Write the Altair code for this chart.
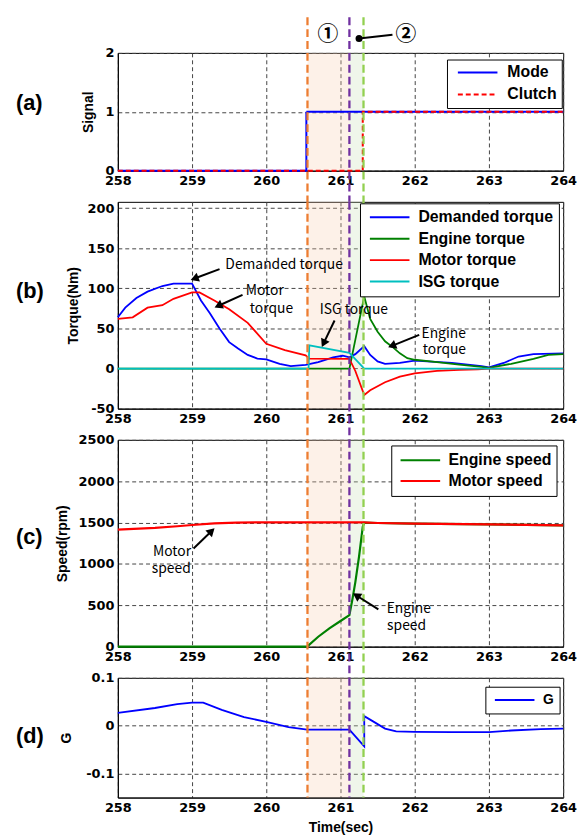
import math
import altair as alt
import pandas as pd

# ---------------- data ----------------
X_MIN, X_MAX = 258, 264
x_ticks = [258, 259, 260, 261, 262, 263, 264]

# phase markers
vline_t = [260.555, 261.12, 261.31]
vline_colors = ["#ED7D31", "#7030A0", "#92D050"]
shade_start = [260.555, 261.12]
shade_end = [261.12, 261.31]
shade_colors = ["#F8CBAD", "#C5E0B4"]

# (a) signals
mode_t = [258, 260.54, 260.54, 264]
mode_v = [0, 0, 1, 1]
clutch_t = [258, 261.30, 261.30, 264]
clutch_v = [0, 0, 1, 1]

# (b) torques
dem_t = [258, 258.1, 258.25, 258.4, 258.6, 258.75, 259.0, 259.12, 259.24, 259.37, 259.5,
         259.62, 259.75, 259.88, 260.0, 260.18, 260.33, 260.53, 260.7, 260.9, 261.03, 261.12,
         261.2, 261.32, 261.4, 261.5, 261.6, 261.8, 262.0, 262.5, 262.9, 263.0, 263.2, 263.4,
         263.6, 264.0]
dem_v = [64, 76, 88, 96, 103, 106, 106, 85, 69, 50, 33, 25, 17, 12.5, 11.5, 6, 3, 4.5, 8, 14,
         16, 14, 18, 28, 17, 9, 6, 7, 10, 7, 3, 1.5, 7, 15, 18, 19]

mot_t = [258, 258.2, 258.4, 258.6, 258.75, 259.0, 259.1, 259.3, 259.5, 259.75, 260.0, 260.25,
         260.53, 260.58, 261.12, 261.2, 261.32, 261.4, 261.6, 261.8, 262.0, 262.3, 262.6, 262.85,
         263.0, 264.0]
mot_v = [62, 64, 76, 79, 87, 95, 95, 85, 74, 57, 31, 23, 16.5, 12.3, 12, -3, -33, -27, -17,
         -10, -6, -3, -1.5, -1, 0, 0]

eng_t = [258, 261.12, 261.32, 261.4, 261.5, 261.6, 261.7, 261.8, 261.9, 262.0, 262.3, 262.6,
         262.9, 263.0, 263.3, 263.6, 263.8, 264.0]
eng_v = [0, 0, 90, 62, 46, 34, 27, 19, 13, 11, 8, 5, 2, 1, 6, 12, 17, 18]

isg_t = [258, 260.57, 260.58, 261.12, 261.32, 264]
isg_v = [0, 0, 29, 19.5, 0, 0]

# (c) speeds
espd_t = [258, 260.55, 260.7, 260.85, 261.0, 261.12, 261.16, 261.2, 261.25, 261.3, 261.32,
          261.5, 262, 263, 264]
espd_v = [0, 0, 120, 220, 310, 380, 570, 780, 1090, 1450, 1500, 1495, 1487, 1478, 1465]
mspd_t = [258, 258.5, 258.8, 259.0, 259.3, 259.6, 260.0, 261.3, 261.5, 262.0, 263.0, 264.0]
mspd_v = [1415, 1435, 1455, 1470, 1490, 1500, 1502, 1502, 1495, 1487, 1478, 1465]

# (d) G
g_t = [258, 258.5, 258.8, 259.0, 259.15, 259.4, 259.7, 260.0, 260.3, 260.55, 261.12, 261.32,
       261.32, 261.45, 261.6, 261.75, 262.0, 262.5, 263.0, 263.3, 263.7, 264.0]
g_v = [0.027, 0.037, 0.045, 0.048, 0.048, 0.033, 0.018, 0.008, -0.003, -0.008, -0.008, -0.043,
       0.02, 0.008, -0.006, -0.012, -0.013, -0.0135, -0.0135, -0.01, -0.007, -0.006]

# annotations (data units)
ann_b_text = ["Demanded torque", "Motor", "torque", "ISG torque", "Engine", "torque"]
ann_b_t = [260.24, 259.98, 260.07, 261.18, 262.39, 262.40]
ann_b_v = [129, 97, 74, 73, 43.5, 23]
arr_b = [(259.37, 124, 259.05, 113), (259.68, 92, 259.37, 79),
         (260.92, 60, 260.78, 33), (262.06, 42, 261.71, 29)]

ann_c_text = ["Motor", "speed", "Engine", "speed"]
ann_c_t = [258.73, 258.72, 261.92, 261.89]
ann_c_v = [1140, 937, 455, 254]
arr_c = [(259.02, 1186, 259.25, 1385), (261.51, 450, 261.23, 609)]

phase_text = ["①", "②"]
phase_t = [260.83, 261.88]
phase_v = [2.31, 2.31]
pointer = (261.25, 2.245, 261.70, 2.31)

# ---------------- layout ----------------
W = 450
H_A, H_B, H_C, H_D = 119, 209, 209, 121
GAP = 31.5
PX_PER_T = W / (X_MAX - X_MIN)

INT_EXPR = "datum.value < 0 ? '-' + format(-datum.value, 'd') : format(datum.value, 'd')"
DEC_EXPR = ("datum.value == 0 ? '0' : (datum.value < 0 ? '-' + format(-datum.value, '.1f')"
            " : format(datum.value, '.1f'))")


def long_df(series):
    rows = []
    for name, ts, vs in series:
        for i, (t, v) in enumerate(zip(ts, vs)):
            rows.append({"series": name, "t": t, "v": v, "i": i})
    return pd.DataFrame(rows)


def x_enc(title=None):
    return alt.X("t:Q", scale=alt.Scale(domain=[X_MIN, X_MAX], nice=False, zero=False),
                 axis=alt.Axis(values=x_ticks, format="d", title=title, grid=True,
                               titlePadding=6))


def make_y(domain, values, title, expr=INT_EXPR, tpad=8):
    return alt.Y("v:Q", scale=alt.Scale(domain=domain, nice=False, zero=False),
                 axis=alt.Axis(values=values, title=title, grid=True, titlePadding=tpad,
                               labelExpr=expr))


def make_legend(lx, ly, row_h, row_pad, sym_off, size=16):
    return alt.Legend(title=None, orient="none", legendX=lx, legendY=ly,
                      symbolType="stroke", symbolSize=1600, symbolStrokeWidth=2,
                      clipHeight=row_h, rowPadding=row_pad, symbolOffset=sym_off,
                      labelOffset=sym_off + 4, labelFont="Liberation Sans",
                      labelFontSize=size, labelFontWeight="bold", labelColor="black",
                      labelLimit=300, strokeColor="black", fillColor="white",
                      padding=5, cornerRadius=0)


def series_layers(df, names, colors, legend, xe, ye, dashes=None, width=1.8):
    layers = []
    for n in names:
        enc = dict(x=xe, y=ye,
                   color=alt.Color("series:N", scale=alt.Scale(domain=names, range=colors),
                                   legend=legend),
                   order=alt.Order("i:Q"))
        if dashes is not None:
            enc["strokeDash"] = alt.StrokeDash("series:N",
                                               scale=alt.Scale(domain=names, range=dashes),
                                               legend=legend)
        layers.append(alt.Chart(df).transform_filter(alt.datum.series == n)
                      .mark_line(strokeWidth=width).encode(**enc))
    return layers


def deco_layers(H, xe, y_top, y_bot):
    shades = []
    for s, e, c in zip(shade_start, shade_end, shade_colors):
        shades.append(alt.Chart(pd.DataFrame({"t": [s], "t2": [e]}))
                      .mark_rect(color=c, opacity=0.28)
                      .encode(x=xe, x2="t2:Q", y=alt.value(0), y2=alt.value(H)))
    vlines = []
    for t, c in zip(vline_t, vline_colors):
        vlines.append(alt.Chart(pd.DataFrame({"t": [t]}))
                      .mark_rule(color=c, strokeDash=[8, 4], strokeWidth=2.3)
                      .encode(x=xe, y=alt.value(y_top), y2=alt.value(y_bot)))
    return shades, vlines


def panel_label(text, y):
    return (alt.Chart(pd.DataFrame({"label": [text]}))
            .mark_text(align="left", baseline="middle", font="Liberation Sans",
                       fontSize=22, fontWeight="bold", color="black")
            .encode(x=alt.value(-103), y=alt.value(y), text="label:N"))


def ann_layers(texts, ts, vs, arrows, xe, ye, sy):
    tdf = pd.DataFrame({"label": texts, "t": ts, "v": vs})
    txt = (alt.Chart(tdf).mark_text(font="Noto Sans CJK KR", fontSize=14, color="black",
                                    align="center", baseline="middle", lineHeight=14)
           .encode(x=xe, y=ye, text="label:N"))
    adf = pd.DataFrame({"t": [a[0] for a in arrows], "v": [a[1] for a in arrows],
                        "t2": [a[2] for a in arrows], "v2": [a[3] for a in arrows]})
    stems = (alt.Chart(adf).mark_rule(color="black", strokeWidth=2)
             .encode(x=xe, y=ye, x2="t2:Q", y2="v2:Q"))
    angs = []
    for t0, v0, t1, v1 in arrows:
        dx = (t1 - t0) * PX_PER_T
        dy = -(v1 - v0) * sy
        angs.append(math.degrees(math.atan2(dx, -dy)) % 360)
    hdf = pd.DataFrame({"t": [a[2] for a in arrows], "v": [a[3] for a in arrows], "ang": angs})
    heads = (alt.Chart(hdf).mark_point(shape="triangle", filled=True, color="black",
                                       size=90, opacity=1)
             .encode(x=xe, y=ye, angle=alt.Angle("ang:Q", scale=None)))
    return [stems, heads, txt]


# ---- panel (a)
xa = x_enc()
ya = make_y([0, 2], [0, 1, 2], "Signal", tpad=10)
df_a = long_df([("Mode", mode_t, mode_v), ("Clutch", clutch_t, clutch_v)])
leg_a = make_legend(332.6, 6.7, 16, 6.3, 5)
sh, vl = deco_layers(H_A, xa, -36, H_A + GAP)
lines_a = series_layers(df_a, ["Mode", "Clutch"], ["#0000FF", "#FF0000"], leg_a, xa, ya,
                        dashes=[[1, 0], [5, 3]], width=2)
ph = (alt.Chart(pd.DataFrame({"label": phase_text, "t": phase_t, "v": phase_v}))
      .mark_text(font="Noto Sans CJK KR", fontSize=21, fontWeight="bold", color="black",
                 baseline="middle")
      .encode(x=xa, y=ya, text="label:N"))
pdf = pd.DataFrame({"t": [pointer[0]], "v": [pointer[1]], "t2": [pointer[2]], "v2": [pointer[3]]})
pline = alt.Chart(pdf).mark_rule(color="black", strokeWidth=2).encode(
    x=xa, y=ya, x2="t2:Q", y2="v2:Q")
pdot = alt.Chart(pdf).mark_point(shape="circle", filled=True, color="black", size=50,
                                 opacity=1).encode(x=xa, y=ya)
panel_a = alt.layer(*sh, *lines_a, *vl, ph, pline, pdot, panel_label("(a)", 51)).properties(
    width=W, height=H_A)

# ---- panel (b)
xb = x_enc()
yb = make_y([-50, 208], [-50, 0, 50, 100, 150, 200], "Torque(Nm)", tpad=7)
df_b = long_df([("Demanded torque", dem_t, dem_v), ("Engine torque", eng_t, eng_v),
                ("Motor torque", mot_t, mot_v), ("ISG torque", isg_t, isg_v)])
leg_b = make_legend(244.7, 1.5, 18, 3.7, 4)
sh, vl = deco_layers(H_B, xb, 0, H_B + GAP)
lines_b = series_layers(df_b, ["Demanded torque", "Engine torque", "Motor torque", "ISG torque"],
                        ["#0000FF", "#008000", "#FF0000", "#00BFBF"], leg_b, xb, yb)
ann_b = ann_layers(ann_b_text, ann_b_t, ann_b_v, arr_b, xb, yb, H_B / 258)
panel_b = alt.layer(*sh, *lines_b, *vl, *ann_b, panel_label("(b)", 90)).properties(
    width=W, height=H_B)

# ---- panel (c)
xc = x_enc()
yc = make_y([0, 2500], [0, 500, 1000, 1500, 2000, 2500], "Speed(rpm)", tpad=9)
df_c = long_df([("Engine speed", espd_t, espd_v), ("Motor speed", mspd_t, mspd_v)])
leg_c = make_legend(276.3, 5.7, 20, 1, 3.4)
sh, vl = deco_layers(H_C, xc, 0, H_C + GAP)
lines_c = series_layers(df_c, ["Engine speed", "Motor speed"], ["#008000", "#FF0000"], leg_c,
                        xc, yc, width=2.2)
ann_c = ann_layers(ann_c_text, ann_c_t, ann_c_v, arr_c, xc, yc, H_C / 2500)
panel_c = alt.layer(*sh, *lines_c, *vl, *ann_c, panel_label("(c)", 98)).properties(
    width=W, height=H_C)

# ---- panel (d)
xd = x_enc("Time(sec)")
yd = make_y([-0.15, 0.1], [-0.1, 0, 0.1], "G", expr=DEC_EXPR, tpad=12)
df_d = long_df([("G", g_t, g_v)])
leg_d = make_legend(371.4, 9, 17, 0, 3.6, size=14)
sh, vl = deco_layers(H_D, xd, 0, H_D)
lines_d = series_layers(df_d, ["G"], ["#0000FF"], leg_d, xd, yd)
panel_d = alt.layer(*sh, *lines_d, *vl, panel_label("(d)", 59)).properties(
    width=W, height=H_D)

chart = (alt.vconcat(panel_a, panel_b, panel_c, panel_d, spacing=GAP, bounds="flush")
         .resolve_scale(color="independent", strokeDash="independent")
         .resolve_legend(color="independent", strokeDash="independent")
         .properties(padding={"left": 7, "top": 3, "right": 0, "bottom": 0})
         .configure_view(stroke="black", strokeWidth=1)
         .configure_axis(domainColor="black", domainWidth=1, gridColor="#444",
                         gridDash=[4, 3], gridWidth=1, ticks=False, labelPadding=4,
                         labelFlush=False, labelOverlap=False, labelFont="DejaVu Sans",
                         labelFontWeight="bold", labelFontSize=13, labelColor="black",
                         titleFont="Liberation Sans", titleFontWeight="bold",
                         titleFontSize=14, titleColor="black"))

chart.save("out.html", embed_options={"renderer": "svg", "actions": False})
